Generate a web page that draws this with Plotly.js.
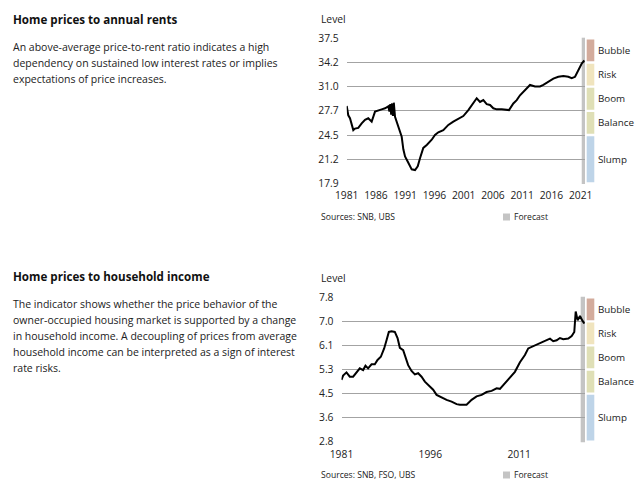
<!DOCTYPE html>
<html>
<head>
<meta charset="utf-8">
<script src="https://cdn.plot.ly/plotly-3.0.1.min.js"></script>
<style>html,body{margin:0;padding:0;background:#fff;}#chart{width:639px;height:500px;}</style>
</head>
<body>
<div id="chart"></div>
<script>
// ---------- Data: Home prices to annual rents ----------
const rentYears = [1981.0,1981.27,1981.56,1982.13,1982.42,1982.98,1983.56,1984.13,1984.69,1985.27,1985.84,1986.4,1986.98,1987.55,1988.11,1988.3,1988.45,1988.6,1988.75,1988.9,1989.05,1989.26,1989.82,1990.4,1990.68,1990.97,1991.53,1992.11,1992.68,1993.14,1993.53,1994.09,1994.68,1995.53,1996.09,1996.66,1997.51,1998.37,1999.22,2000.08,2000.93,2001.79,2002.64,2003.22,2003.79,2004.35,2004.93,2005.5,2006.06,2006.64,2007.5,2008.35,2008.74,2009.48,2010.06,2010.62,2011.19,2011.77,2012.33,2013.19,2014.04,2014.61,2015.46,2016.32,2017.17,2018.03,2018.88,2019.46,2020.03,2020.59,2021.17,2021.62];
const rentValues = [28.35,27.1,26.7,25.1,25.3,25.4,26.0,26.5,26.7,26.25,27.6,27.8,27.9,28.05,28.3,27.6,28.6,27.2,28.7,27.0,28.8,26.9,25.6,24.2,22.5,21.55,20.7,19.8,19.7,20.2,21.3,22.7,23.1,23.8,24.45,24.8,25.1,25.8,26.25,26.6,27.0,27.8,28.7,29.4,28.9,29.15,28.6,28.5,28.05,27.9,27.9,27.85,27.8,28.7,29.15,29.8,30.3,30.7,31.2,31.0,31.0,31.2,31.6,32.06,32.3,32.4,32.3,32.1,32.3,33.3,34.1,34.5];
const rentTickYears = [1981,1986,1991,1996,2001,2006,2011,2016,2021];
const rentTickLabels = ['17.9','21.2','24.5','27.7','31.0','34.2','37.5'];
const rentForecastStart = 2021.17;

// ---------- Data: Home prices to household income ----------
const incYears = [1981.0,1981.27,1981.84,1982.4,1982.96,1983.53,1984.09,1984.65,1985.05,1985.49,1986.07,1986.62,1987.08,1987.64,1988.2,1988.6,1988.99,1989.45,1990.0,1990.46,1990.85,1991.41,1991.81,1992.25,1992.82,1993.38,1993.94,1994.51,1995.07,1995.92,1996.47,1997.05,1997.89,1998.74,1999.58,2000.43,2000.98,2002.11,2002.96,2003.8,2004.65,2005.49,2006.34,2007.18,2007.74,2008.58,2009.43,2010.27,2011.12,2011.96,2012.52,2013.09,2013.94,2014.78,2015.63,2016.19,2016.74,2017.32,2017.87,2018.43,2019.28,2019.85,2020.29,2020.53,2020.86,2021.25,2021.64,2021.98];
const incValues = [4.94,5.09,5.2,5.05,5.05,5.2,5.34,5.28,5.43,5.34,5.48,5.48,5.63,5.74,6.03,6.31,6.6,6.62,6.6,6.39,6.05,5.97,5.74,5.45,5.25,5.13,5.17,5.05,4.88,4.71,4.6,4.42,4.33,4.25,4.19,4.1,4.08,4.08,4.25,4.37,4.42,4.52,4.56,4.65,4.63,4.83,5.0,5.22,5.55,5.8,6.03,6.08,6.17,6.23,6.31,6.37,6.28,6.31,6.39,6.35,6.37,6.46,6.6,7.31,7.0,7.15,7.0,6.89];
const incTickYears = [1981,1996,2011];
const incTickLabels = ['2.8','3.6','4.5','5.3','6.1','7.0','7.8'];
const incForecastStart = 2021.37;

// ---------- Zones & texts ----------
const zoneNames = ['Slump','Balance','Boom','Risk','Bubble'];
const zoneColors = ['#bed4e8','#dfdfb6','#dfdfb6','#f0e4be','#d3ab9c'];
const zoneStartTick = [0,2,3,4,5];
const zoneEndTick = [2,3,4,5,6];

const title1 = 'Home prices to annual rents';
const para1 = ['An above-average price-to-rent ratio indicates a high',
               'dependency on sustained low interest rates or implies',
               'expectations of price increases.'];
const title2 = 'Home prices to household income';
const para2 = ['The indicator shows whether the price behavior of the',
               'owner-occupied housing market is supported by a change',
               'in household income. A decoupling of prices from average',
               'household income can be interpreted as a sign of interest',
               'rate risks.'];
const source1 = 'Sources: SNB, UBS';
const source2 = 'Sources: SNB, FSO, UBS';
const forecastLabel = 'Forecast';
const axisTitle = 'Level';

// ---------- Layout helpers ----------
const W = 639, H = 500;
const FONT = 'Open Sans, sans-serif';
const px = v => v / W;
const py = v => 1 - v / H;

function evenTicks(labels){
  const lo = parseFloat(labels[0]), hi = parseFloat(labels[labels.length-1]);
  const n = labels.length - 1;
  return labels.map((_, i) => lo + (hi - lo) * i / n);
}
const rentTickVals = evenTicks(rentTickLabels);
const incTickVals = evenTicks(incTickLabels);

const panels = [
  {left:346.7, top:37.7, bottom:184, tickVals:rentTickVals, tickLabels:rentTickLabels,
   xr:[1981, 2021.73], xticks:rentTickYears, fstart:rentForecastStart, title:title1, para:para1,
   titleY:19, paraY:47, source:source1, sourceY:217},
  {left:341.5, top:296.7, bottom:442.3, tickVals:incTickVals, tickLabels:incTickLabels,
   xr:[1981, 2022.1], xticks:incTickYears, fstart:incForecastStart, title:title2, para:para2,
   titleY:276, paraY:304, source:source2, sourceY:475}
];
const plotRight = 585;

const shapes = [], annotations = [];
const layout = {
  width: W, height: H, autosize: false,
  margin: {l:0, r:0, t:0, b:0},
  paper_bgcolor: '#fff', plot_bgcolor: '#fff',
  showlegend: false,
  font: {family: FONT, size: 10, color: '#222'}
};

panels.forEach((p, k) => {
  const sfx = k === 0 ? '' : '2';
  const lo = p.tickVals[0], hi = p.tickVals[p.tickVals.length-1];
  const span = hi - lo;
  const pad = span / (p.bottom - p.top) * 0.6;
  layout['xaxis' + sfx] = {
    domain: [px(p.left), px(plotRight)], anchor: 'y' + sfx,
    range: p.xr, tickvals: p.xticks, ticktext: p.xticks.map(String),
    showgrid: false, zeroline: false, showline: false, ticks: '',
    ticklabelstandoff: 4,
    tickfont: {family: FONT, size: 10.3, color: '#222'}, fixedrange: true
  };
  layout['yaxis' + sfx] = {
    domain: [py(p.bottom), py(p.top)], anchor: 'x' + sfx,
    range: [lo - pad, hi + pad], tickvals: p.tickVals, ticktext: p.tickLabels,
    showgrid: true, gridcolor: '#a3a3a3', gridwidth: 1,
    zeroline: false, showline: false, ticks: '',
    ticklabelstandoff: 7,
    tickfont: {family: FONT, size: 10.3, color: '#222'}, fixedrange: true
  };
  // forecast bar
  shapes.push({type:'rect', xref:'x'+sfx, yref:'paper', x0:p.fstart, x1:p.xr[1], y0:py(p.bottom), y1:py(p.top),
               fillcolor:'#c4c4c4', line:{width:0}, layer:'below'});
  // zone bands
  const ppx = span / (p.bottom - p.top);
  zoneNames.forEach((z, i) => {
    const y0 = p.tickVals[zoneStartTick[i]] + ppx * 1.2;
    const y1 = p.tickVals[zoneEndTick[i]] - ppx * 1.2;
    shapes.push({type:'rect', xref:'paper', yref:'y'+sfx, x0:px(586.7), x1:px(594.3), y0:y0, y1:y1,
                 fillcolor: zoneColors[i], line:{width:0}, layer:'above'});
    annotations.push({xref:'paper', yref:'y'+sfx, x:px(596), y:(y0+y1)/2, xanchor:'left', yanchor:'middle',
                      text: z, showarrow:false, font:{family:FONT, size:9.8, color:'#222'}});
  });
  // axis title
  annotations.push({xref:'paper', yref:'paper', x:px(319), y:py(p.top - 19), xanchor:'left', yanchor:'middle',
                    text: axisTitle, showarrow:false, font:{family:FONT, size:10.3, color:'#222'}});
  // panel title
  annotations.push({xref:'paper', yref:'paper', x:px(11), y:py(p.titleY), xanchor:'left', yanchor:'middle',
                    text: '<b>' + p.title + '</b>', showarrow:false, font:{family:FONT, size:11.6, color:'#111'}});
  p.para.forEach((line, i) => {
    annotations.push({xref:'paper', yref:'paper', x:px(11), y:py(p.paraY + 16*i), xanchor:'left', yanchor:'middle',
                      text: line, showarrow:false, font:{family:FONT, size:10.5, color:'#222'}});
  });
  // sources & forecast legend
  annotations.push({xref:'paper', yref:'paper', x:px(319), y:py(p.sourceY), xanchor:'left', yanchor:'middle',
                    text: p.source, showarrow:false, font:{family:FONT, size:8.6, color:'#222'}});
  shapes.push({type:'rect', xref:'paper', yref:'paper', x0:px(503), x1:px(510), y0:py(p.sourceY+3.5), y1:py(p.sourceY-3.5),
               fillcolor:'#c4c4c4', line:{width:0}});
  annotations.push({xref:'paper', yref:'paper', x:px(511.5), y:py(p.sourceY), xanchor:'left', yanchor:'middle',
                    text: forecastLabel, showarrow:false, font:{family:FONT, size:8.6, color:'#222'}});
});
layout.shapes = shapes;
layout.annotations = annotations;

const traces = [
  {x: rentYears, y: rentValues, xaxis:'x', yaxis:'y', type:'scatter', mode:'lines',
   line:{color:'#000', width:2}, hoverinfo:'skip'},
  {x: incYears, y: incValues, xaxis:'x2', yaxis:'y2', type:'scatter', mode:'lines',
   line:{color:'#000', width:2}, hoverinfo:'skip'}
];

Plotly.newPlot('chart', traces, layout, {displayModeBar:false, staticPlot:true});
</script>
</body>
</html>
